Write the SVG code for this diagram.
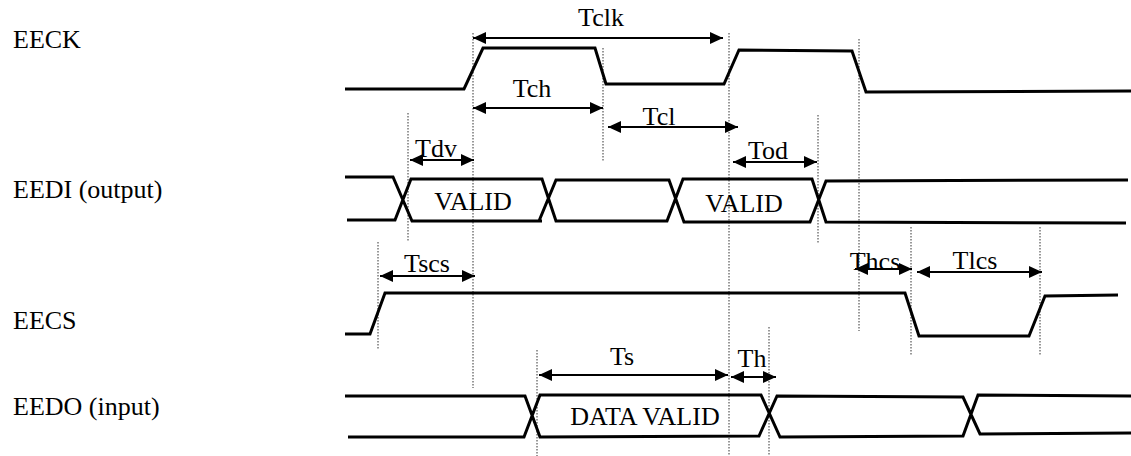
<svg xmlns="http://www.w3.org/2000/svg" width="1131" height="456" viewBox="0 0 1131 456">
<style>
text{font-family:"Liberation Serif","Times New Roman",serif;font-size:26px;fill:#000}
.lbl{text-anchor:start}
.mid{text-anchor:middle}
.wave{fill:none;stroke:#000;stroke-width:3;stroke-linejoin:miter}
.dot{fill:none;stroke:#333;stroke-width:1;stroke-dasharray:1.5,1.5}
.dim{fill:none;stroke:#000;stroke-width:2;marker-start:url(#ah);marker-end:url(#ah)}
</style>
<defs>
<marker id="ah" markerUnits="userSpaceOnUse" markerWidth="14" markerHeight="12" refX="13" refY="6" orient="auto-start-reverse">
<path d="M0,0 L13,6 L0,12 Z" fill="#000"/>
</marker>
</defs>
<rect width="1131" height="456" fill="#fff"/>
<g id="guides">
<line class="dot" x1="473" y1="33" x2="473" y2="388"/>
<line class="dot" x1="603" y1="48" x2="603" y2="162"/>
<line class="dot" x1="729" y1="33" x2="729" y2="456"/>
<line class="dot" x1="859" y1="39" x2="859" y2="331"/>
<line class="dot" x1="818" y1="115" x2="818" y2="243"/>
<line class="dot" x1="408" y1="113" x2="408" y2="242"/>
<line class="dot" x1="378" y1="242" x2="378" y2="350"/>
<line class="dot" x1="911" y1="227" x2="911" y2="356"/>
<line class="dot" x1="1040" y1="227" x2="1040" y2="355"/>
<line class="dot" x1="537" y1="350" x2="537" y2="456"/>
<line class="dot" x1="769" y1="327" x2="769" y2="456"/>
</g>
<g id="EECK">
<text class="lbl" x="13" y="48">EECK</text>
<polyline class="wave" points="345,89 464,89 483,48 595,48 606,84 724,84 739,50 852,51 866,92 1131,91"/>
</g>
<g id="EEDI">
<text class="lbl" x="13" y="198">EEDI (output)</text>
<path class="wave" d="M345,177 L393,177 L412,221 L542,221 M347,220 L395,220 L411,179 L542,179 L556,221 L667,221 L683,179 L812,179 L826,222 L1126,223 M539,221 L556,180 L669,180 L684,222 L810,222 L826,181 L1128,180"/>
<text class="mid" x="473" y="210">VALID</text>
<text class="mid" x="744" y="212">VALID</text>
</g>
<g id="EECS">
<text class="lbl" x="13" y="329">EECS</text>
<polyline class="wave" points="345,334 370,334 385,293 905,293 919,336 1029,336 1045,296 1118,295"/>
</g>
<g id="EEDO">
<text class="lbl" x="13" y="415">EEDO (input)</text>
<path class="wave" d="M345,396 L525,396 L540,437 L759,436 L777,396 L963,397 L980,434 L1131,433 M348,437 L524,437 L540,395 L761,395 L780,437 L963,436 L978,395 L1131,396"/>
<text class="mid" x="645" y="425">DATA VALID</text>
</g>
<g id="connectors">
<line class="dim" x1="473" y1="38" x2="723" y2="38"/>
<line class="dim" x1="473" y1="108" x2="603" y2="108"/>
<line class="dim" x1="608" y1="127" x2="738" y2="127"/>
<line class="dim" x1="410" y1="160" x2="474" y2="160"/>
<line class="dim" x1="733" y1="162" x2="817" y2="162"/>
<line class="dim" x1="380" y1="276" x2="475" y2="276"/>
<line class="dim" x1="855" y1="269" x2="912" y2="269"/>
<line class="dim" x1="917" y1="272" x2="1042" y2="272"/>
<line class="dim" x1="539" y1="375" x2="728" y2="375"/>
<line class="dim" x1="731" y1="377" x2="776" y2="377"/>
</g>
<g id="dim-labels">
<text class="mid" x="601" y="26">Tclk</text>
<text class="mid" x="532" y="97">Tch</text>
<text class="mid" x="659" y="125">Tcl</text>
<text class="mid" x="436" y="157">Tdv</text>
<text class="mid" x="768" y="159">Tod</text>
<text class="mid" x="427" y="272">Tscs</text>
<text class="mid" x="875" y="270">Thcs</text>
<text class="mid" x="975" y="269">Tlcs</text>
<text class="mid" x="622" y="365">Ts</text>
<text class="mid" x="752" y="367">Th</text>
</g>
</svg>
